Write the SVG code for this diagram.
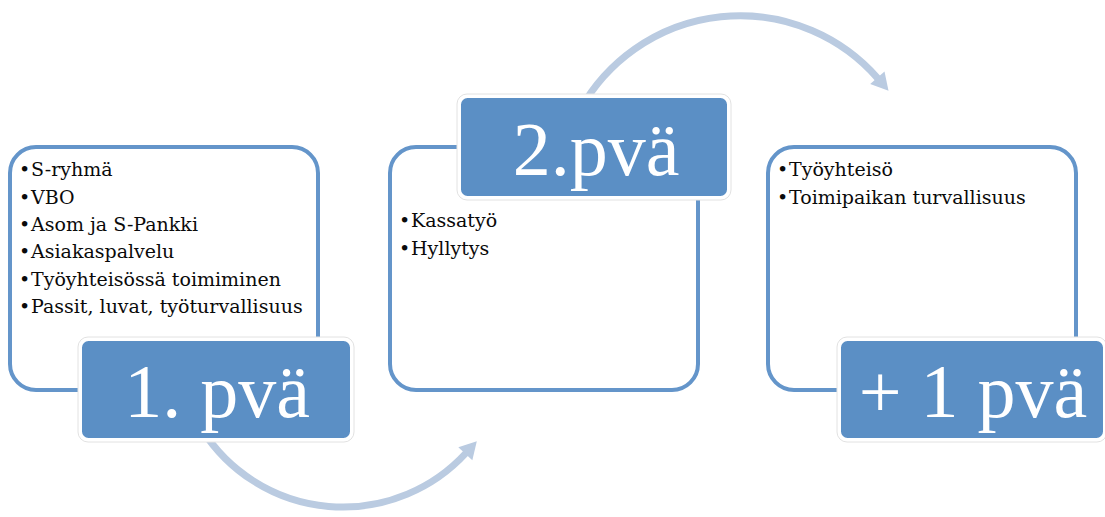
<svg xmlns="http://www.w3.org/2000/svg" width="1105" height="517" viewBox="0 0 1105 517">
  <style>
    .panel { fill: #ffffff; stroke: #6495CA; stroke-width: 4; }
    .tab-halo { fill: #ffffff; stroke: #e2e2e2; stroke-width: 1; }
    .tab { fill: #5B8FC5; stroke: #ffffff; stroke-width: 3; }
    .tab-text { font-family: "Liberation Serif", "Times New Roman", serif; font-size: 76px; fill: #ffffff; }
    .item { font-family: "DejaVu Serif", "Liberation Serif", serif; font-size: 19px; fill: #0a0a0a; }
    .flow { fill: none; stroke: #BACBE1; stroke-width: 7; marker-end: url(#head); }
  </style>
  <defs>
    <marker id="head" markerUnits="userSpaceOnUse" markerWidth="24" markerHeight="24" viewBox="-2 -12 22 24" refX="1" refY="0" orient="auto">
      <path d="M0,-9.5 L17,0 L0,9.5 Z" fill="#BACBE1"/>
    </marker>
  </defs>

  <rect width="1105" height="517" fill="#ffffff"/>

  <!-- curved flow arrows between the days -->
  <g id="connectors">
    <path class="flow" d="M 202.3 430 A 167 167 0 0 0 466 453"/>
    <path class="flow" d="M 580 110 A 183 183 0 0 1 878 78.6"/>
  </g>

  <!-- day 1 -->
  <g id="day1">
    <rect class="panel" x="10" y="147" width="308" height="243" rx="26"/>
    <text class="item">
      <tspan x="19" y="176">•</tspan><tspan x="31" y="176">S-ryhmä</tspan>
      <tspan x="19" y="203.5">•</tspan><tspan x="31" y="203.5">VBO</tspan>
      <tspan x="19" y="230.5">•</tspan><tspan x="31" y="230.5">Asom ja S-Pankki</tspan>
      <tspan x="19" y="258">•</tspan><tspan x="31" y="258">Asiakaspalvelu</tspan>
      <tspan x="19" y="286">•</tspan><tspan x="31" y="286">Työyhteisössä toimiminen</tspan>
      <tspan x="19" y="313">•</tspan><tspan x="31" y="313">Passit, luvat, työturvallisuus</tspan>
    </text>
    <rect class="tab-halo" x="78" y="337" width="276" height="105" rx="10"/>
    <rect class="tab" x="80.5" y="339.5" width="271" height="100" rx="8"/>
    <text class="tab-text" x="217" y="417" text-anchor="middle">1. pvä</text>
  </g>

  <!-- day 2 -->
  <g id="day2">
    <rect class="panel" x="390" y="147" width="308" height="243" rx="26"/>
    <text class="item">
      <tspan x="399" y="227">•</tspan><tspan x="411" y="227">Kassatyö</tspan>
      <tspan x="399" y="255">•</tspan><tspan x="411" y="255">Hyllytys</tspan>
    </text>
    <rect class="tab-halo" x="457" y="94" width="274" height="106" rx="10"/>
    <rect class="tab" x="459.5" y="96.5" width="269" height="101" rx="8"/>
    <text class="tab-text" x="596" y="175" text-anchor="middle">2.pvä</text>
  </g>

  <!-- additional day -->
  <g id="day3">
    <rect class="panel" x="768" y="147" width="308" height="243" rx="26"/>
    <text class="item">
      <tspan x="777" y="176">•</tspan><tspan x="789" y="176">Työyhteisö</tspan>
      <tspan x="777" y="203.5">•</tspan><tspan x="789" y="203.5">Toimipaikan turvallisuus</tspan>
    </text>
    <rect class="tab-halo" x="837" y="337" width="270" height="105" rx="10"/>
    <rect class="tab" x="839.5" y="339.5" width="265" height="100" rx="8"/>
    <text class="tab-text" x="973" y="417" text-anchor="middle">+ 1 pvä</text>
  </g>
</svg>
